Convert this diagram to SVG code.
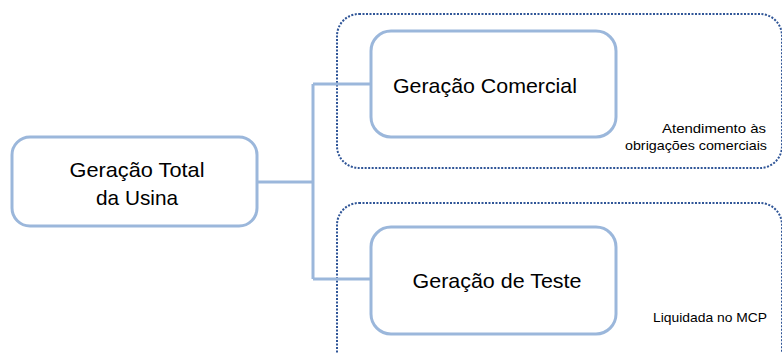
<svg xmlns="http://www.w3.org/2000/svg" width="782" height="353" viewBox="0 0 782 353">
<style>
.grp{fill:none;stroke:#2F5597;stroke-width:2;stroke-dasharray:2 1.5}
.node{fill:#fff;stroke:#9BB7DB;stroke-width:3}
.conn{fill:none;stroke:#9BB7DB;stroke-width:3}
.t{font-family:"Liberation Sans",Arial,sans-serif;fill:#000}
.big{font-size:21px}
.small{font-size:13px}
</style>
<rect width="782" height="353" fill="#fff"/>
<g id="group-comercial"><rect class="grp" x="337" y="14" width="445" height="154" rx="22"/></g>
<g id="group-teste"><rect class="grp" x="337" y="203" width="445" height="175" rx="22"/></g>
<g id="connectors">
<path class="conn" d="M257 182H313M313 84V279M313 84H371M313 279H371"/>
</g>
<g id="node-total">
<rect class="node" x="12" y="137" width="245" height="89" rx="18"/>
<text class="t big" x="137" y="177" text-anchor="middle" textLength="135" lengthAdjust="spacingAndGlyphs">Geração Total</text>
<text class="t big" x="137" y="205" text-anchor="middle" textLength="82" lengthAdjust="spacingAndGlyphs">da Usina</text>
</g>
<g id="node-comercial">
<rect class="node" x="371" y="31" width="245" height="106" rx="20"/>
<text class="t big" x="485" y="93" text-anchor="middle" textLength="184" lengthAdjust="spacingAndGlyphs">Geração Comercial</text>
</g>
<g id="node-teste">
<rect class="node" x="371" y="227" width="245" height="107" rx="20"/>
<text class="t big" x="497" y="288" text-anchor="middle" textLength="169" lengthAdjust="spacingAndGlyphs">Geração de Teste</text>
</g>
<g id="label-comercial">
<text class="t small" x="766" y="133" text-anchor="end" textLength="104" lengthAdjust="spacingAndGlyphs">Atendimento às</text>
<text class="t small" x="767" y="150" text-anchor="end" textLength="142" lengthAdjust="spacingAndGlyphs">obrigações comerciais</text>
</g>
<g id="label-teste">
<text class="t small" x="767" y="322" text-anchor="end" textLength="114" lengthAdjust="spacingAndGlyphs">Liquidada no MCP</text>
</g>
</svg>
